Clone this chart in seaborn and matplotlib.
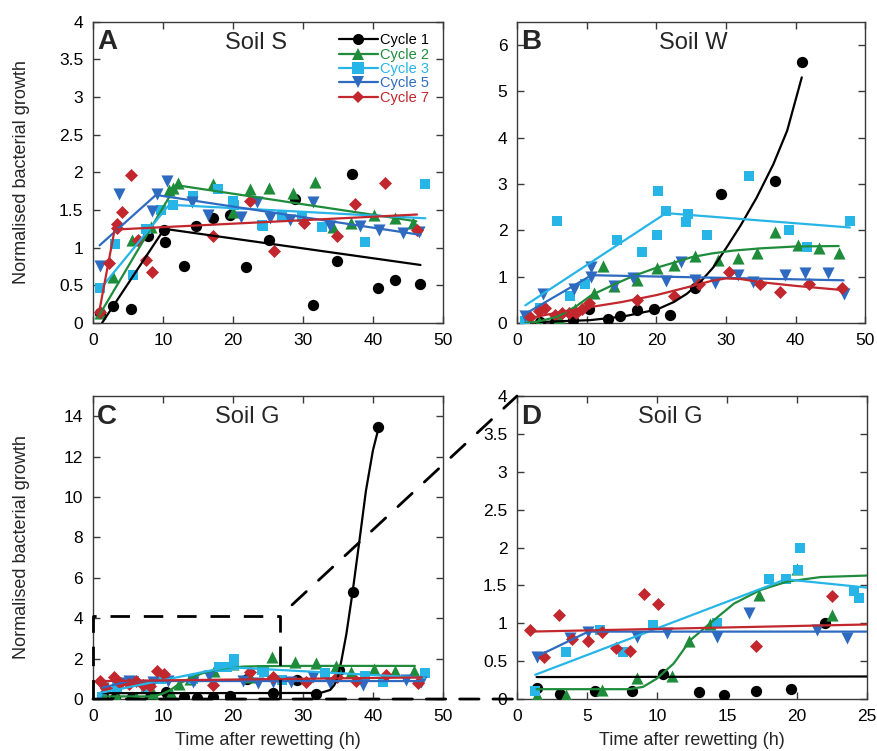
import numpy as np
import pandas as pd
import matplotlib
matplotlib.use("Agg")
import matplotlib.pyplot as plt
from matplotlib.lines import Line2D
from matplotlib.patches import ConnectionPatch
from matplotlib.ticker import FuncFormatter
import seaborn as sns

# ---------------- data ----------------
cycle_names = ["Cycle 1", "Cycle 2", "Cycle 3", "Cycle 5", "Cycle 7"]
cycle_colors = ["#000000", "#1e8c3a", "#27b5e8", "#2e6bc0", "#c1272d"]
cycle_markers = ["o", "^", "s", "v", "D"]
cycle_sizes = [66, 76, 58, 76, 44]

# Panel A - Soil S
A1_t = [0.95, 2.9, 5.4, 7.9, 10.1, 10.3, 13.0, 14.7, 17.2, 19.6, 21.9, 25.1, 28.9, 31.4, 34.9, 37.0, 40.7, 43.2, 46.7]
A1_g = [0.13, 0.22, 0.19, 1.16, 1.24, 1.07, 0.76, 1.29, 1.40, 1.44, 0.74, 1.10, 1.65, 0.24, 0.82, 1.98, 0.47, 0.57, 0.52]
A2_t = [0.95, 2.9, 5.6, 8.3, 10.9, 11.4, 12.2, 17.2, 20.0, 22.4, 25.2, 28.6, 31.7, 34.3, 36.8, 40.2, 43.2, 45.7]
A2_g = [0.13, 0.61, 1.10, 1.28, 1.76, 1.79, 1.86, 1.85, 1.48, 1.78, 1.79, 1.72, 1.87, 1.27, 1.33, 1.43, 1.39, 1.33]
A3_t = [0.95, 3.2, 5.7, 7.6, 9.7, 11.5, 14.3, 17.9, 20.0, 20.2, 24.1, 24.3, 27.0, 29.8, 32.7, 38.9, 47.4]
A3_g = [0.47, 1.05, 0.63, 1.25, 1.50, 1.56, 1.69, 1.78, 1.62, 1.56, 1.30, 1.29, 1.42, 1.41, 1.28, 1.08, 1.85]
A5_t = [0.95, 3.7, 8.4, 9.1, 10.6, 14.1, 16.5, 21.2, 23.5, 25.3, 28.1, 31.4, 33.8, 38.1, 40.9, 44.3, 46.6]
A5_g = [0.75, 1.71, 1.49, 1.71, 1.89, 1.60, 1.44, 1.41, 1.61, 1.39, 1.37, 1.61, 1.29, 1.29, 1.24, 1.19, 1.21]
A7_t = [0.95, 2.3, 3.4, 3.4, 4.2, 5.5, 6.5, 7.6, 8.5, 17.2, 22.4, 25.9, 30.2, 34.9, 37.5, 41.8, 46.3]
A7_g = [0.15, 0.80, 1.31, 1.26, 1.47, 1.96, 1.10, 0.84, 0.67, 1.15, 1.62, 0.96, 1.33, 1.16, 1.58, 1.86, 1.24]
A1_fit_t = [1.3, 10.2, 46.8]
A1_fit_g = [0.0, 1.25, 0.77]
A2_fit_t = [0.95, 11.9, 46.2]
A2_fit_g = [0.11, 1.83, 1.35]
A3_fit_t = [0.95, 10.9, 47.5]
A3_fit_g = [0.44, 1.57, 1.39]
A5_fit_t = [0.95, 9.0, 46.8]
A5_fit_g = [1.03, 1.70, 1.17]
A7_fit_t = [0.95, 3.1, 46.3]
A7_fit_g = [0.18, 1.24, 1.44]

# Panel B - Soil W
B1_t = [1.2, 3.3, 5.5, 8.0, 10.4, 13.0, 14.8, 17.2, 19.7, 22.0, 25.5, 29.3, 37.1, 40.9]
B1_g = [0.02, 0.02, 0.02, 0.07, 0.30, 0.09, 0.15, 0.27, 0.29, 0.18, 0.75, 2.79, 3.07, 5.63]
B2_t = [1.2, 3.2, 6.1, 8.4, 11.0, 12.3, 14.0, 17.3, 20.1, 22.5, 25.5, 28.8, 31.8, 34.5, 37.0, 40.4, 43.4, 46.2]
B2_g = [0.0, 0.02, 0.10, 0.29, 0.65, 1.22, 0.80, 0.92, 1.19, 1.26, 1.44, 1.36, 1.40, 1.52, 1.96, 1.69, 1.62, 1.51]
B3_t = [1.1, 3.3, 5.7, 7.6, 9.7, 14.4, 18.0, 20.1, 20.3, 21.4, 24.2, 24.5, 27.3, 33.3, 39.0, 41.6, 47.8]
B3_g = [0.05, 0.33, 2.21, 0.58, 0.85, 1.80, 1.53, 1.90, 2.84, 2.41, 2.17, 2.36, 1.90, 3.18, 2.01, 1.64, 2.21]
B5_t = [1.1, 3.8, 8.2, 10.6, 10.6, 14.0, 16.7, 21.4, 23.5, 25.6, 28.5, 31.8, 33.9, 38.5, 41.4, 44.6, 46.9]
B5_g = [0.15, 0.63, 0.73, 1.21, 0.99, 0.79, 0.96, 0.91, 1.32, 0.93, 0.86, 1.04, 0.88, 1.03, 1.08, 1.08, 0.63]
B7_t = [1.8, 3.2, 4.0, 5.4, 6.4, 7.4, 8.5, 9.3, 10.3, 17.3, 22.5, 26.1, 30.5, 34.9, 37.8, 42.0, 46.7]
B7_g = [0.13, 0.25, 0.32, 0.18, 0.22, 0.22, 0.22, 0.30, 0.42, 0.49, 0.59, 0.83, 1.10, 0.84, 0.67, 0.85, 0.76]
B1_fit_t = [2.0, 5.0, 10.5, 15.3, 20.1, 22.5, 24.4, 26.3, 28.2, 30.1, 32.1, 34.4, 36.8, 38.8, 40.9]
B1_fit_g = [0.01, 0.03, 0.06, 0.14, 0.29, 0.45, 0.63, 0.88, 1.20, 1.63, 2.10, 2.70, 3.42, 4.15, 5.30]
B2_fit_t = [1.2, 3.1, 5.9, 8.5, 10.7, 13.8, 16.5, 19.8, 22.5, 25.1, 28.0, 31.0, 35.0, 40.0, 46.2]
B2_fit_g = [0.0, 0.03, 0.14, 0.36, 0.60, 0.82, 1.00, 1.18, 1.30, 1.42, 1.50, 1.56, 1.61, 1.65, 1.66]
B3_fit_t = [1.2, 21.4, 47.8]
B3_fit_g = [0.38, 2.37, 2.06]
B5_fit_t = [0.9, 10.7, 46.9]
B5_fit_g = [0.17, 1.03, 0.92]
B7_fit_t = [1.7, 5.0, 10.0, 15.0, 20.0, 25.0, 28.0, 30.0, 32.0, 35.0, 40.0, 46.7]
B7_fit_g = [0.10, 0.20, 0.33, 0.45, 0.60, 0.79, 0.91, 0.96, 0.95, 0.88, 0.80, 0.71]

# Panels C and D - Soil G (D is a zoom of C)
G1_t = [1.4, 3.1, 5.6, 8.2, 10.4, 13.0, 14.8, 17.1, 19.6, 22.0, 25.7, 29.2, 31.9, 35.2, 37.1, 40.8]
G1_g = [0.14, 0.07, 0.11, 0.11, 0.33, 0.09, 0.05, 0.10, 0.13, 1.01, 0.28, 0.94, 0.25, 1.43, 5.30, 13.46]
G2_t = [1.4, 3.5, 6.1, 8.6, 11.1, 12.3, 13.8, 17.3, 20.0, 22.5, 25.6, 28.8, 31.9, 34.7, 36.9, 40.2, 43.2, 45.9]
G2_g = [0.05, 0.05, 0.12, 0.28, 0.31, 0.76, 0.99, 1.37, 1.72, 1.11, 2.09, 1.85, 1.76, 1.65, 1.32, 1.47, 1.40, 1.40]
G3_t = [1.3, 3.5, 5.9, 7.6, 9.7, 14.3, 18.0, 19.2, 20.1, 20.2, 24.1, 24.4, 27.0, 33.1, 38.8, 41.4, 47.4]
G3_g = [0.10, 0.62, 0.91, 0.62, 0.98, 1.01, 1.58, 1.58, 1.70, 1.99, 1.42, 1.34, 0.95, 1.27, 1.14, 0.86, 1.27]
G5_t = [1.4, 3.8, 5.1, 8.6, 10.7, 14.3, 16.6, 21.4, 23.6, 25.7, 28.3, 31.4, 33.8, 38.6, 44.8, 46.9]
G5_g = [0.56, 0.80, 0.89, 0.82, 0.87, 0.82, 1.13, 0.91, 0.80, 0.86, 0.86, 1.10, 0.77, 0.69, 0.94, 0.86]
G7_t = [0.95, 1.9, 3.0, 3.9, 5.1, 6.1, 7.1, 8.1, 9.1, 10.1, 17.1, 22.5, 25.7, 30.4, 34.8, 37.6, 41.9, 46.5]
G7_g = [0.91, 0.55, 1.11, 0.79, 0.76, 0.88, 0.68, 0.64, 1.38, 1.25, 0.70, 1.36, 1.10, 0.86, 1.10, 0.89, 1.19, 0.77]
G1_fit_t = [1.4, 32.5, 33.9, 34.5, 35.0, 35.5, 36.2, 37.1, 38.1, 39.0, 40.0, 40.8]
G1_fit_g = [0.29, 0.30, 0.45, 0.70, 1.10, 1.90, 3.20, 5.30, 7.90, 10.30, 12.30, 13.40]
G2_fit_t = [1.4, 8.0, 9.0, 10.0, 11.2, 12.4, 13.8, 15.5, 17.4, 19.3, 21.7, 25.0, 30.0, 35.0, 40.0, 46.0]
G2_fit_g = [0.13, 0.13, 0.16, 0.27, 0.47, 0.78, 1.00, 1.26, 1.44, 1.55, 1.61, 1.63, 1.64, 1.64, 1.64, 1.64]
G3_fit_t = [1.3, 19.2, 47.4]
G3_fit_g = [0.32, 1.58, 1.05]
G5_fit_t = [1.4, 5.1, 47.0]
G5_fit_g = [0.56, 0.89, 0.89]
G7_fit_t = [0.95, 47.0]
G7_fit_g = [0.89, 1.07]

# zoom box of panel C shown in panel D
zoom_box_t = [0.0, 0.0, 26.7, 26.7]
zoom_box_g = [0.0, 4.1, 4.1, 0.0]

# ---------------- styling ----------------
sns.set_style("ticks")
plt.rcParams["font.family"] = ["Liberation Sans", "DejaVu Sans"]
plt.rcParams["axes.edgecolor"] = "#3a3a3a"
plt.rcParams["axes.linewidth"] = 1.0

fig = plt.figure(figsize=(8.77, 7.51), dpi=100)
axA = fig.add_axes([0.106, 0.570, 0.399, 0.401])
axB = fig.add_axes([0.5895, 0.570, 0.397, 0.401])
axC = fig.add_axes([0.106, 0.0692, 0.399, 0.4035])
axD = fig.add_axes([0.5895, 0.0692, 0.399, 0.4035])

fmt = FuncFormatter(lambda v, p: f"{v:g}")


def draw_panel(ax, pts, fits):
    for i, ((t, g), (ft, fg)) in enumerate(zip(pts, fits)):
        sns.scatterplot(x=t, y=g, ax=ax, color=cycle_colors[i], marker=cycle_markers[i],
                        s=cycle_sizes[i], linewidth=0, zorder=3, clip_on=True)
        sns.lineplot(x=ft, y=fg, ax=ax, color=cycle_colors[i], lw=1.6, sort=False,
                     estimator=None, zorder=4)


draw_panel(axA, [(A1_t, A1_g), (A2_t, A2_g), (A3_t, A3_g), (A5_t, A5_g), (A7_t, A7_g)],
           [(A1_fit_t, A1_fit_g), (A2_fit_t, A2_fit_g), (A3_fit_t, A3_fit_g), (A5_fit_t, A5_fit_g), (A7_fit_t, A7_fit_g)])
draw_panel(axB, [(B1_t, B1_g), (B2_t, B2_g), (B3_t, B3_g), (B5_t, B5_g), (B7_t, B7_g)],
           [(B1_fit_t, B1_fit_g), (B2_fit_t, B2_fit_g), (B3_fit_t, B3_fit_g), (B5_fit_t, B5_fit_g), (B7_fit_t, B7_fit_g)])
G_pts = [(G1_t, G1_g), (G2_t, G2_g), (G3_t, G3_g), (G5_t, G5_g), (G7_t, G7_g)]
G_fits = [(G1_fit_t, G1_fit_g), (G2_fit_t, G2_fit_g), (G3_fit_t, G3_fit_g), (G5_fit_t, G5_fit_g), (G7_fit_t, G7_fit_g)]
draw_panel(axC, G_pts, G_fits)
draw_panel(axD, G_pts, G_fits)

limits = {axA: ((0, 50), (0, 4), np.arange(0, 51, 10), np.arange(0, 4.01, 0.5)),
          axB: ((0, 50), (0, 6.5), np.arange(0, 51, 10), np.arange(0, 6.01, 1)),
          axC: ((0, 50), (0, 15), np.arange(0, 51, 10), np.arange(0, 14.01, 2)),
          axD: ((0, 25), (0, 4), np.arange(0, 26, 5), np.arange(0, 4.01, 0.5))}
for ax, (xl, yl, xt, yt) in limits.items():
    ax.set_xlim(*xl)
    ax.set_ylim(*yl)
    ax.set_xticks(xt)
    ax.set_yticks(yt)
    ax.xaxis.set_major_formatter(fmt)
    ax.yaxis.set_major_formatter(fmt)
    ax.tick_params(direction="in", length=5, width=1, top=True, right=True,
                   labelsize=12.5, pad=7, colors="#3a3a3a", labelcolor="black")
    ax.set_xlabel("")
    ax.set_ylabel("")
    for sp in ax.spines.values():
        sp.set_visible(True)

for ax in (axA, axC):
    ax.set_ylabel("Normalised bacterial growth", fontsize=13)
    ax.yaxis.set_label_coords(-0.18, 0.5)
for ax in (axC, axD):
    ax.set_xlabel("Time after rewetting (h)", fontsize=13)
    ax.xaxis.set_label_coords(0.5, -0.108)

for ax, letter, title, tx in ((axA, "A", "Soil S", 0.466), (axB, "B", "Soil W", 0.506),
                              (axC, "C", "Soil G", 0.44), (axD, "D", "Soil G", 0.437)):
    ax.text(0.012, 0.975, letter, transform=ax.transAxes, fontsize=20, fontweight="bold",
            ha="left", va="top")
    ax.text(tx, 0.93, title, transform=ax.transAxes, fontsize=17, ha="center", va="center")

# legend
handles = [Line2D([0], [0], color=c, marker=m, lw=1.6, markersize=8 if m != "D" else 6,
                  markeredgewidth=0) for c, m in zip(cycle_colors, cycle_markers)]
leg = axA.legend(handles, cycle_names, loc="upper right", bbox_to_anchor=(0.99, 0.995),
                 frameon=False, fontsize=10.5, handlelength=2.7, handletextpad=0.15,
                 labelspacing=0.02, borderpad=0.2)
for txt, c in zip(leg.get_texts(), cycle_colors):
    txt.set_color(c)

# zoom indicator (dashed)
dash = (0, (7, 5))
axC.plot(zoom_box_t, zoom_box_g, color="black", lw=2, linestyle=dash, clip_on=False, zorder=6)
con1 = ConnectionPatch(xyA=(zoom_box_t[2], zoom_box_g[2]), coordsA=axC.transData,
                       xyB=(0, 4), coordsB=axD.transData, color="black", lw=2,
                       linestyle=(7, (7, 6)), zorder=6)
con2 = ConnectionPatch(xyA=(0, 0), coordsA=axC.transData, xyB=(0, 0), coordsB=axD.transData,
                       color="black", lw=2, linestyle=dash, zorder=6)
fig.add_artist(con1)
fig.add_artist(con2)

fig.savefig("out.png", dpi=100)
